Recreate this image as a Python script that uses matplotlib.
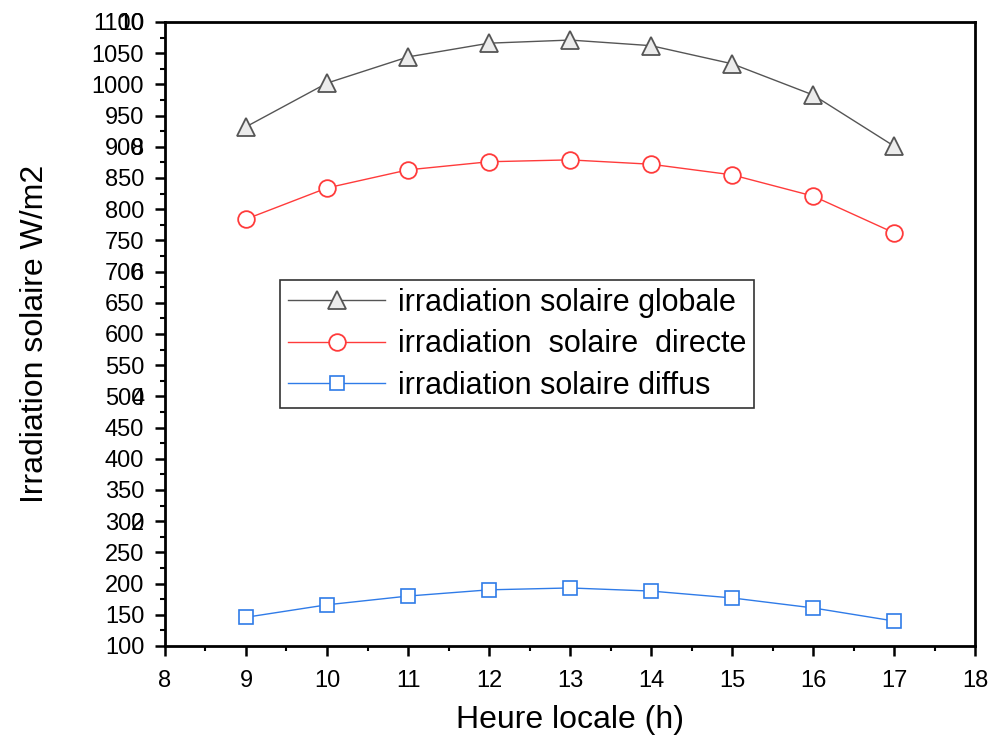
import matplotlib
matplotlib.use("Agg")
import matplotlib.pyplot as plt
from matplotlib.ticker import MultipleLocator

plt.rcParams['font.family'] = ['Liberation Sans', 'DejaVu Sans']

hours = [9, 10, 11, 12, 13, 14, 15, 16, 17]
globale = [932, 1002, 1044, 1066, 1071, 1062, 1033, 983, 901]
directe = [784, 834, 863, 876, 879, 872, 855, 821, 762]
diffus = [146, 166, 180, 190, 193, 188, 177, 161, 140]

y_ticks = list(range(100, 1101, 50))
x_ticks = list(range(8, 19))
ghost_ticks = [300, 500, 700, 900, 1100]
ghost_labels = ['2', '4', '6', '8', '10']

fig = plt.figure(figsize=(9.92, 7.42), dpi=100)
ax = fig.add_axes([0.1663, 0.1294, 0.8167, 0.841])

ax.plot(hours, globale, color='#555555', lw=1, marker='^', ms=13,
        mfc='#ececec', mec='#555555', mew=1.3, label='irradiation solaire globale')
ax.plot(hours, directe, color='#ff3b3b', lw=1, marker='o', ms=12,
        mfc='white', mec='#ff3b3b', mew=1.3, label='irradiation  solaire  directe')
ax.plot(hours, diffus, color='#2f7be8', lw=1, marker='s', ms=10,
        mfc='white', mec='#2f7be8', mew=1.2, label='irradiation solaire diffus')

ax.set_xlim(8, 18)
ax.set_ylim(100, 1100)
ax.set_xticks(x_ticks)
ax.xaxis.set_minor_locator(MultipleLocator(0.5))
ax.set_yticks(y_ticks)
ax.yaxis.set_minor_locator(MultipleLocator(25))
ax.tick_params(axis='both', which='major', direction='out', length=7, width=1.8)
ax.tick_params(axis='y', which='major', labelsize=17, pad=8)
ax.tick_params(axis='x', which='major', labelsize=17, pad=10)
ax.tick_params(axis='both', which='minor', direction='out', length=3.5, width=1.5)
ax.tick_params(top=False, right=False, which='both')
for s in ax.spines.values():
    s.set_linewidth(2)

# overlapping ghost labels from a second scale
for yv, lab in zip(ghost_ticks, ghost_labels):
    ax.annotate(lab, xy=(0, yv), xycoords=('axes fraction', 'data'),
                xytext=(-15, 0), textcoords='offset points',
                ha='right', va='center_baseline', fontsize=17)

ax.set_xlabel('Heure locale (h)', fontsize=23, labelpad=10)
ax.set_ylabel('Irradiation solaire W/m2', fontsize=23, labelpad=30)

leg = ax.legend(loc='upper left', bbox_to_anchor=(0.142, 0.5865), fontsize=22,
                frameon=True, fancybox=False, edgecolor='black', handlelength=3.2,
                handletextpad=0.4, borderpad=0.25, labelspacing=0.38,
                borderaxespad=0)
leg.get_frame().set_linewidth(1.2)

fig.savefig('out.png', dpi=100)
